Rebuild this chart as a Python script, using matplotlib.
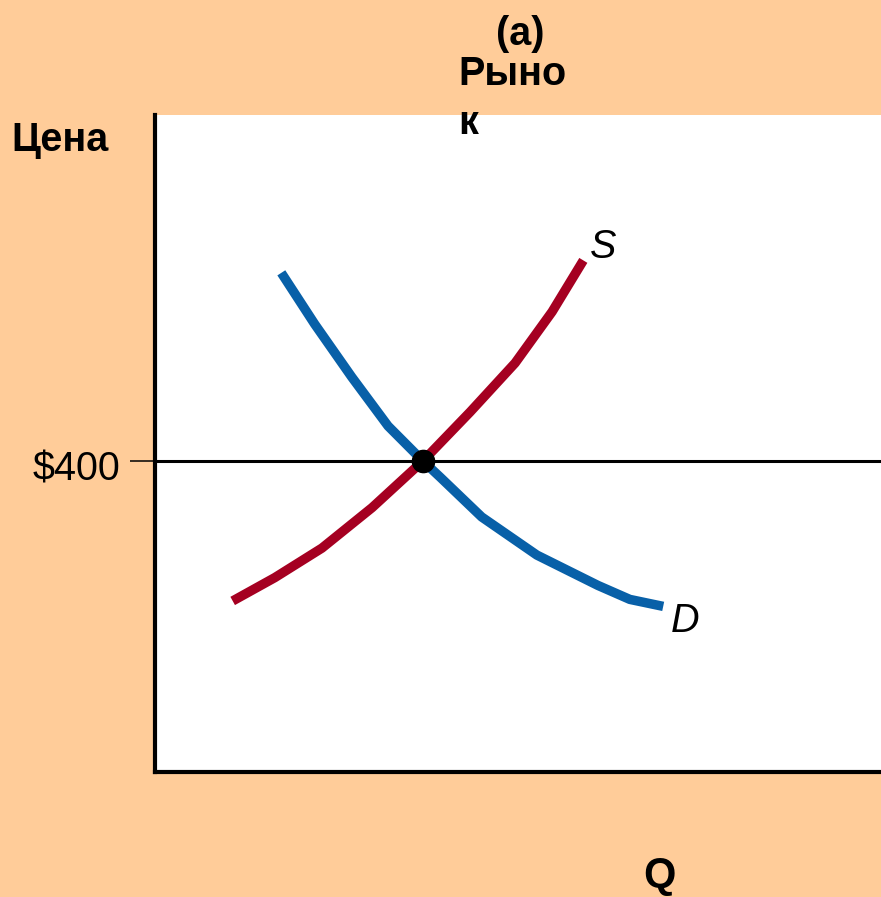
import matplotlib.pyplot as plt
from matplotlib.transforms import ScaledTranslation

plt.rcParams['font.family'] = ['Liberation Sans', 'DejaVu Sans']

# ----------- DATA ------------
supply_q = [10.7, 16.5, 23.0, 29.9, 36.9, 43.4, 49.6, 54.7, 59.0]
supply_p = [220, 250, 288, 340, 400, 463, 526, 592, 658]

demand_q = [17.4, 22.0, 27.1, 32.1, 36.9, 39.3, 45.0, 52.6, 61.0, 65.4, 70.0]
demand_p = [642, 576, 508, 445, 400, 379, 328, 279, 240, 222, 213]

eq_q = 36.9
eq_p = 400
price_ticks = [400]
price_labels = ['$400']

BG = '#FFCC99'
RED = '#A50021'
BLUE = '#0860A8'
FS = 28.5

W, H = 881, 897
fig = plt.figure(figsize=(W / 100, H / 100), dpi=100, facecolor=BG)
ax = fig.add_axes([155 / W, (H - 772) / H, (W - 155) / W, (772 - 115) / H])
ax.set_facecolor('white')

ax.plot(supply_q, supply_p, color=RED, lw=6.8, solid_capstyle='butt', zorder=3)
ax.plot(demand_q, demand_p, color=BLUE, lw=6.8, solid_capstyle='butt', zorder=2)
ax.axhline(eq_p, color='black', lw=2.2, zorder=1)
ax.plot([eq_q], [eq_p], 'o', color='black', ms=16, zorder=4)

# curve names next to the curve ends
ax.annotate('S', xy=(supply_q[-1], supply_p[-1]), xytext=(20, 13), textcoords='offset pixels',
            fontsize=FS, style='italic', ha='center', va='center')
ax.annotate('D', xy=(demand_q[-1], demand_p[-1]), xytext=(22, -15), textcoords='offset pixels',
            fontsize=FS, style='italic', ha='center', va='center')

ax.set_xlim(0, 100)
ax.set_ylim(0, 845)
ax.set_xticks([])
ax.set_yticks(price_ticks)
ax.set_yticklabels(price_labels, fontsize=FS)
ax.tick_params(axis='y', length=18, width=1.1, pad=7)
for lab in ax.get_yticklabels():
    lab.set_transform(lab.get_transform() + ScaledTranslation(0, -5 / 100, fig.dpi_scale_trans))

for s in ['top', 'right']:
    ax.spines[s].set_visible(False)
for s in ['left', 'bottom']:
    ax.spines[s].set_linewidth(3)

# ----------- LABELS ------------
fig.text(520 / W, 1 - 34 / H, '(a)', fontsize=FS, fontweight='bold', ha='center', va='center')
fig.text(458 / W, 1 - 74 / H, 'Рыно', fontsize=FS, fontweight='bold', ha='left', va='center')
fig.text(458 / W, 1 - 123 / H, 'к', fontsize=FS, fontweight='bold', ha='left', va='center')
fig.text(60 / W, 1 - 140 / H, 'Цена', fontsize=FS, fontweight='bold', ha='center', va='center')
fig.text(659 / W, 1 - 876 / H, 'Q', fontsize=30, fontweight='bold', ha='center', va='center')

fig.savefig('out.png', dpi=100, facecolor=BG)
